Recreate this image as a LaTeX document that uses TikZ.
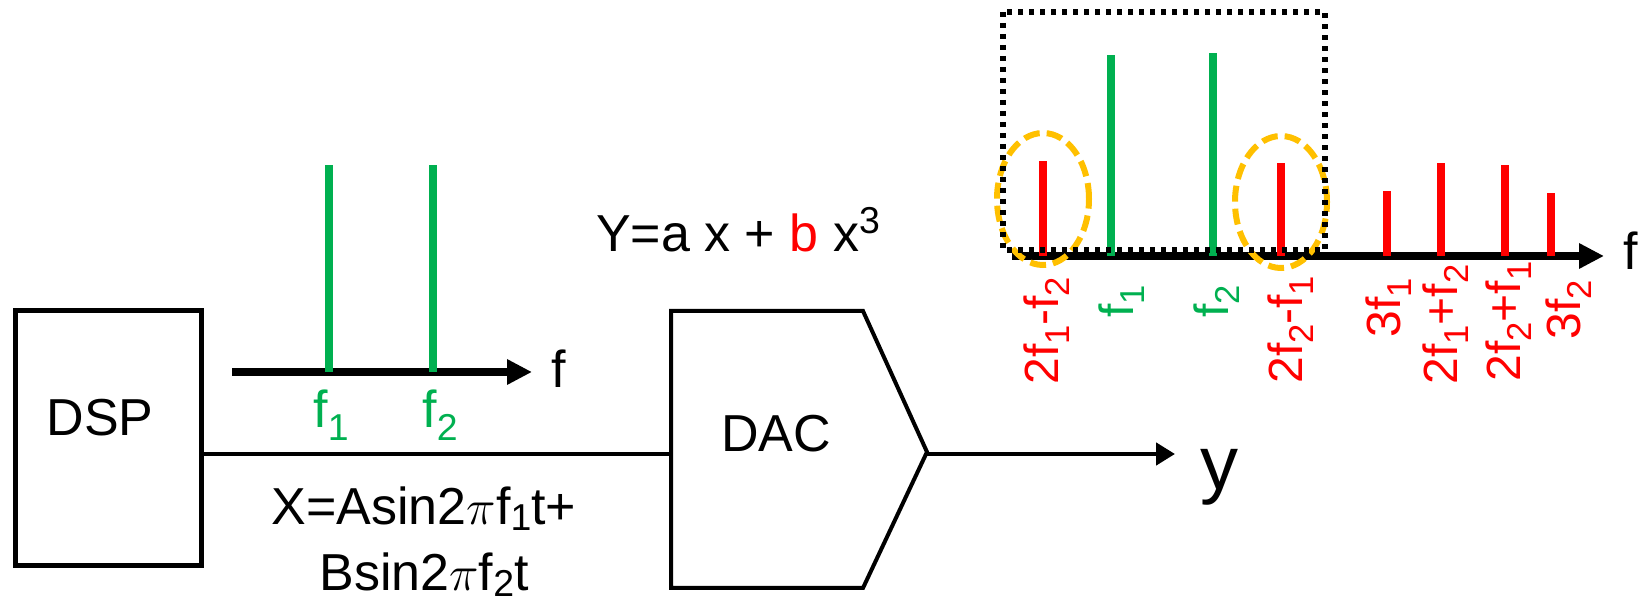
\documentclass[tikz,border=0pt]{standalone}
\usepackage{fontspec}
\setmainfont{Liberation Sans}
\usepackage{graphicx}
\usetikzlibrary{arrows.meta}

\definecolor{tonegreen}{HTML}{00B050}
\definecolor{spurred}{HTML}{FF0000}
\definecolor{ringgold}{HTML}{FFC000}

\newcommand{\lowr}[2][-0.24em]{\raisebox{#1}{\scalebox{0.72}{#2}}}
\newcommand{\highr}[1]{\raisebox{0.36em}{\scalebox{0.72}{#1}}}

\tikzset{
  blockline/.style={draw=black, line width=2pt},
  wire/.style={line width=2.3pt},
  faxis/.style={line width=4pt, -{Triangle[length=12.5pt, width=12pt]}},
  tone/.style={line width=3.8pt, tonegreen},
  spur/.style={line width=3.8pt, spurred},
  txt/.style={font=\fontsize{26}{33}\selectfont, inner sep=0pt},
  flbl/.style={font=\fontsize{24}{29}\selectfont, inner sep=0pt, rotate=90},
  ring/.style={draw=ringgold, line width=3pt, dash pattern=on 8pt off 3.5pt},
  zoombox/.style={line width=2.6pt, dash pattern=on 2.6pt off 2.9pt}
}

\begin{document}
\begin{tikzpicture}[x=0.5pt, y=-0.5pt]
  \useasboundingbox (0,0) rectangle (1646,603);

  % -- DSP block --
  \node[draw, line width=2.5pt, minimum width=93.25pt, minimum height=127.5pt, inner sep=0pt] (dsp) at (108.25,438) {};
  \node[txt] (dsplbl) at (100,418) {DSP};

  % -- DAC block --
  \draw[blockline] (671,311) -- (863,311) -- (927,452) -- (863,588) -- (671,588) -- cycle;
  \coordinate (dacin) at (671,454);
  \coordinate (dacout) at (927,454);
  \node[txt] (daclbl) at (776,434) {DAC};

  % -- Signal path --
  \draw[wire] (dsp.east |- dacin) -- (dacin);
  \coordinate (yend) at (1175,454);
  \draw[wire, -{Triangle[length=9.5pt, width=11pt]}] (dacout) -- (yend);
  \node[font=\fontsize{38}{44}\selectfont, inner sep=0pt, anchor=base west] (ylbl) at (1200,490) {y};

  % -- Equations --
  \node[txt, anchor=base] (yeq) at (738,252) {Y=a x + \textcolor{spurred}{b} x\highr{3}};
  \node[txt, anchor=north, align=center] (xeq) at (424,486) {X=Asin2$\pi$f\lowr[-0.13em]{1}t+\\Bsin2$\pi$f\lowr[-0.13em]{2}t};

  % -- Input spectrum --
  \coordinate (inax0) at (232,372);
  \coordinate (inax1) at (532,372);
  \draw[faxis] (inax0) -- (inax1);
  \foreach \fx in {329,433} \draw[tone] (\fx,372) -- (\fx,165);
  \node[txt, anchor=base west] (inf) at (551,388) {f};
  \node[txt, anchor=base west, tonegreen] (inf1) at (313,428) {f\lowr{1}};
  \node[txt, anchor=base west, tonegreen] (inf2) at (422,428) {f\lowr{2}};

  % -- Output spectrum --
  \coordinate (outax0) at (1012,256);
  \coordinate (outax1) at (1604,256);
  \draw[faxis] (outax0) -- (outax1);
  \foreach \fx/\fy in {1111/55, 1213/53} \draw[tone] (\fx,256) -- (\fx,\fy);
  \foreach \fx/\fy in {1043/161, 1281/163, 1387/191, 1441/163, 1505/165, 1551/193}
    \draw[spur] (\fx,256) -- (\fx,\fy);
  \draw[ring] (1043,199) ellipse [x radius=23pt, y radius=33pt];
  \draw[ring] (1281,202) ellipse [x radius=23pt, y radius=33pt];
  \draw[zoombox] (1003,12) rectangle (1325,250);
  \node[txt, anchor=base west] (outf) at (1623,270) {f};

  % product labels
  \node[flbl, spurred, anchor=base west] (im3lo) at (1058,385) {2f\lowr{1}-f\lowr{2}};
  \node[flbl, tonegreen, anchor=base east] (outf1) at (1133,285) {f\lowr{1}};
  \node[flbl, tonegreen, anchor=base east] (outf2) at (1228,285) {f\lowr{2}};
  \node[flbl, spurred, anchor=base west] (im3hi) at (1302,384) {2f\lowr{2}-f\lowr{1}};
  \node[flbl, spurred, anchor=base east] (h3a) at (1400,278) {3f\lowr{1}};
  \node[flbl, spurred, anchor=base west] (im3sa) at (1457,385) {2f\lowr{1}+f\lowr{2}};
  \node[flbl, spurred, anchor=base west] (im3sb) at (1520,382) {2f\lowr{2}+f\lowr{1}};
  \node[flbl, spurred, anchor=base east] (h3b) at (1580,280) {3f\lowr{2}};

\end{tikzpicture}
\end{document}
